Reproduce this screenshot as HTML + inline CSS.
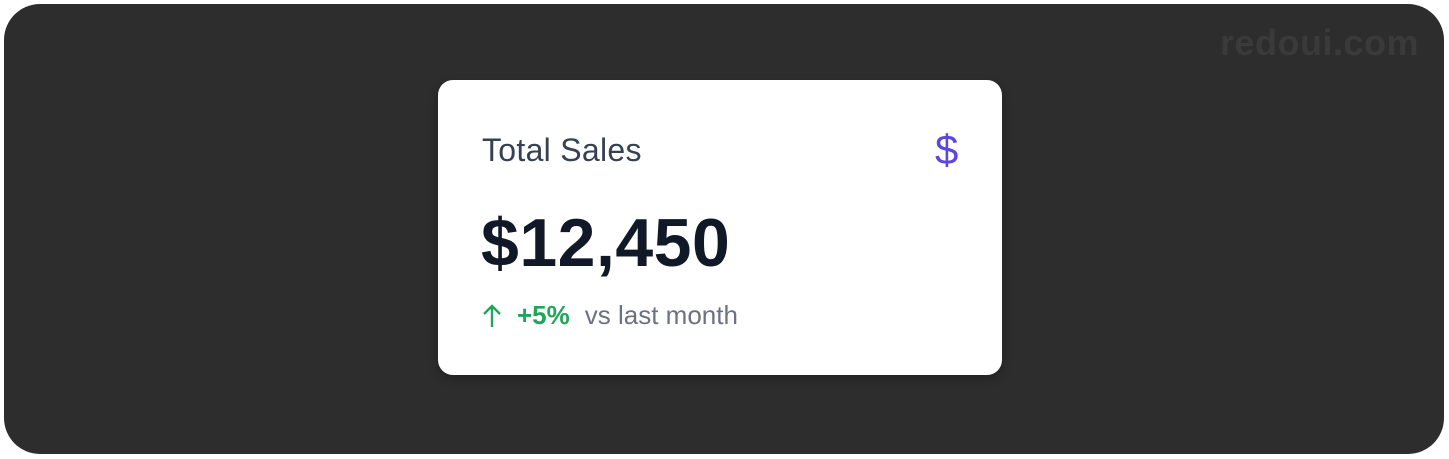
<!DOCTYPE html>
<html><head><meta charset="utf-8"><style>
html,body{margin:0;padding:0;background:#fff;width:1449px;height:459px;overflow:hidden;font-family:"Liberation Sans",sans-serif}
.bg{position:absolute;left:4px;top:4px;width:1440px;height:450px;background:#2d2d2d;border-radius:36px}
.wm{position:absolute;left:1220px;top:22px;font-size:36px;font-weight:bold;color:#3a3a3a;letter-spacing:0.5px}
.card{position:absolute;left:438px;top:80px;width:564px;height:295px;background:#fff;border-radius:15px;box-shadow:0 4px 10px rgba(0,0,0,0.25)}
.t{position:absolute;left:44px;top:52px;font-size:32px;color:#374151;letter-spacing:0.3px}
.ic{position:absolute;left:497px;top:46px;font-size:42px;color:#5b47e0}
.v{position:absolute;left:43px;top:124px;font-size:68px;font-weight:bold;color:#111827;letter-spacing:0.5px}
.f{position:absolute;left:44px;top:220px;font-size:26px;white-space:nowrap;display:flex;align-items:center}
.p{color:#22a55a;font-weight:bold;margin-left:15px}
.m{color:#6b7280;margin-left:15px}
</style></head><body>
<div class="bg"></div>
<div class="wm">redoui.com</div>
<div class="card">
<div class="t">Total Sales</div>
<div class="ic">$</div>
<div class="v">$12,450</div>
<div class="f"><svg width="20" height="26" viewBox="0 0 20 26"><path d="M10 24V3M2 11L10 3L18 11" fill="none" stroke="#22a55a" stroke-width="2.4"/></svg><span class="p">+5%</span><span class="m">vs last month</span></div>
</div>
</body></html>
